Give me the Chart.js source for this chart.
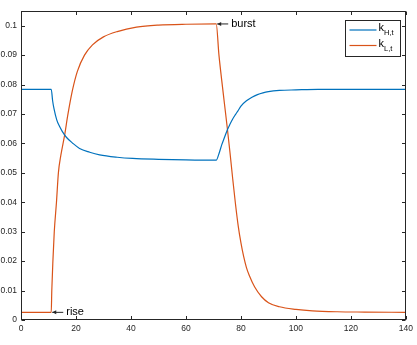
<!DOCTYPE html>
<html>
<head>
<meta charset="utf-8">
<script src="https://cdn.jsdelivr.net/npm/chart.js@4"></script>
<style>
html, body { margin: 0; padding: 0; background: #fff; }
</style>
</head>
<body>
<canvas id="chart" width="417" height="345"></canvas>
<script>
// k_H,t (blue)
const hX = [0, 11, 11.5, 12, 13, 14, 15, 16.5, 18.9, 21.3, 25, 28.6, 35, 40.6, 50, 60, 71,
            72, 73, 74, 75, 76, 77, 78, 79, 80, 82, 84, 86, 88, 90, 94, 100, 108, 120, 140];
const hY = [0.0784, 0.0784, 0.0745, 0.0718, 0.0680, 0.0658, 0.0641, 0.0621, 0.0600, 0.0583, 0.0570, 0.0561, 0.0553, 0.0549, 0.0546, 0.0544, 0.0543,
            0.0565, 0.0595, 0.0620, 0.0645, 0.0665, 0.0683, 0.0698, 0.0712, 0.0727, 0.0745, 0.0757, 0.0766, 0.0772, 0.0776, 0.0780, 0.0782, 0.0784, 0.0784, 0.0784];

// k_L,t (orange)
const lX = [0, 11, 11.2, 11.6, 12.1, 12.9, 13.6, 14.5, 15.9, 17, 18.7, 20.5, 23.1, 26, 30, 35, 42, 50, 60, 71,
            72, 73, 74, 75, 76, 77, 78, 79, 80, 81, 82, 83, 85, 87.5, 90, 94, 100, 106, 115, 125, 140];
const lY = [0.0026, 0.0026, 0.010, 0.020, 0.030, 0.040, 0.050, 0.056, 0.063, 0.0695, 0.078, 0.0845, 0.090, 0.0935, 0.0962, 0.098, 0.0995, 0.1002, 0.1005, 0.1006,
            0.090, 0.0815, 0.0735, 0.0655, 0.057, 0.048, 0.0395, 0.032, 0.0262, 0.0215, 0.0178, 0.0152, 0.0112, 0.0079, 0.0059, 0.0045, 0.0036, 0.0031, 0.0028, 0.0027, 0.0026];

const seriesNames = [['k', 'H,t'], ['k', 'L,t']];
const annoText = ['rise', 'burst'];
const annoX = [11, 71];
const annoY = [0.0026, 0.1006];

const BLUE = '#0072BD', ORANGE = '#D95319', AXIS = '#262626';
const FONT = "'Liberation Sans', Arial, sans-serif";

const toPts = (xs, ys) => xs.map((x, i) => ({x: x, y: ys[i]}));

const matlabAxes = {
    id: 'matlabAxes',
    afterDraw(chart) {
        const ctx = chart.ctx, ca = chart.chartArea;
        const xs = chart.scales.x, ys = chart.scales.y;
        const L = Math.round(ca.left) + 0.5, R = Math.round(ca.right) - 0.5;
        const T = Math.round(ca.top) + 0.5, B = Math.round(ca.bottom) - 0.5;
        const tl = 3.5;
        ctx.save();
        ctx.strokeStyle = AXIS;
        ctx.lineWidth = 1;
        ctx.strokeRect(L, T, R - L, B - T);
        ctx.beginPath();
        xs.ticks.forEach(t => {
            const p = Math.round(xs.getPixelForValue(t.value)) + 0.5;
            ctx.moveTo(p, B); ctx.lineTo(p, B - tl);
            ctx.moveTo(p, T); ctx.lineTo(p, T + tl);
        });
        ys.ticks.forEach(t => {
            const p = Math.round(ys.getPixelForValue(t.value)) + 0.5;
            ctx.moveTo(L, p); ctx.lineTo(L + tl, p);
            ctx.moveTo(R, p); ctx.lineTo(R - tl, p);
        });
        ctx.stroke();

        // text arrows
        ctx.fillStyle = '#000';
        ctx.font = '11px ' + FONT;
        ctx.textBaseline = 'middle';
        annoText.forEach((txt, i) => {
            const px = xs.getPixelForValue(annoX[i]) + 1;
            const py = ys.getPixelForValue(annoY[i]);
            ctx.strokeStyle = AXIS;
            ctx.beginPath();
            ctx.moveTo(px, py); ctx.lineTo(px + 11, py);
            ctx.stroke();
            ctx.fillStyle = AXIS;
            ctx.beginPath();
            ctx.moveTo(px, py); ctx.lineTo(px + 4, py - 2); ctx.lineTo(px + 4, py + 2);
            ctx.closePath(); ctx.fill();
            ctx.fillStyle = '#000';
            ctx.fillText(txt, px + 14, py);
        });

        // legend
        const bx = R - 61, by = T + 8, bw = 55, bh = 36;
        ctx.fillStyle = '#fff';
        ctx.fillRect(bx, by, bw, bh);
        ctx.strokeStyle = AXIS;
        ctx.strokeRect(Math.round(bx) + 0.5, Math.round(by) + 0.5, bw, bh);
        [BLUE, ORANGE].forEach((c, i) => {
            const y = by + 10.5 + i * 15.5;
            ctx.strokeStyle = c;
            ctx.lineWidth = 1.2;
            ctx.beginPath();
            ctx.moveTo(bx + 5, y); ctx.lineTo(bx + 32, y);
            ctx.stroke();
            ctx.fillStyle = '#000';
            ctx.textBaseline = 'alphabetic';
            ctx.font = '11px ' + FONT;
            ctx.fillText(seriesNames[i][0], bx + 34, y + 1);
            const kw = ctx.measureText(seriesNames[i][0]).width;
            ctx.font = '7.5px ' + FONT;
            ctx.fillText(seriesNames[i][1], bx + 34 + kw, y + 5);
        });
        ctx.restore();
    }
};

new Chart(document.getElementById('chart'), {
    type: 'line',
    data: {
        datasets: [
            { label: 'k_H,t', data: toPts(hX, hY), borderColor: BLUE, borderWidth: 1.2,
              pointRadius: 0, cubicInterpolationMode: 'monotone', fill: false },
            { label: 'k_L,t', data: toPts(lX, lY), borderColor: ORANGE, borderWidth: 1.2,
              pointRadius: 0, cubicInterpolationMode: 'monotone', fill: false }
        ]
    },
    options: {
        responsive: false,
        animation: false,
        devicePixelRatio: 1,
        layout: { padding: { top: 11, right: 9, left: 0, bottom: 0 } },
        plugins: { legend: { display: false }, tooltip: { enabled: false } },
        scales: {
            x: {
                type: 'linear', min: 0, max: 140,
                grid: { display: false, drawTicks: false },
                border: { display: false },
                ticks: { stepSize: 20, autoSkip: false, maxRotation: 0, padding: 4,
                         color: AXIS, font: { family: FONT, size: 8.5 } },
                afterFit: s => { s.height = 25; }
            },
            y: {
                min: 0, max: 0.105,
                grid: { display: false, drawTicks: false },
                border: { display: false },
                ticks: { stepSize: 0.01, includeBounds: false, padding: 4, color: AXIS,
                         font: { family: FONT, size: 8.5 },
                         callback: v => String(+v.toFixed(3)) },
                afterFit: s => { s.width = 21; }
            }
        }
    },
    plugins: [matlabAxes]
});
</script>
</body>
</html>
